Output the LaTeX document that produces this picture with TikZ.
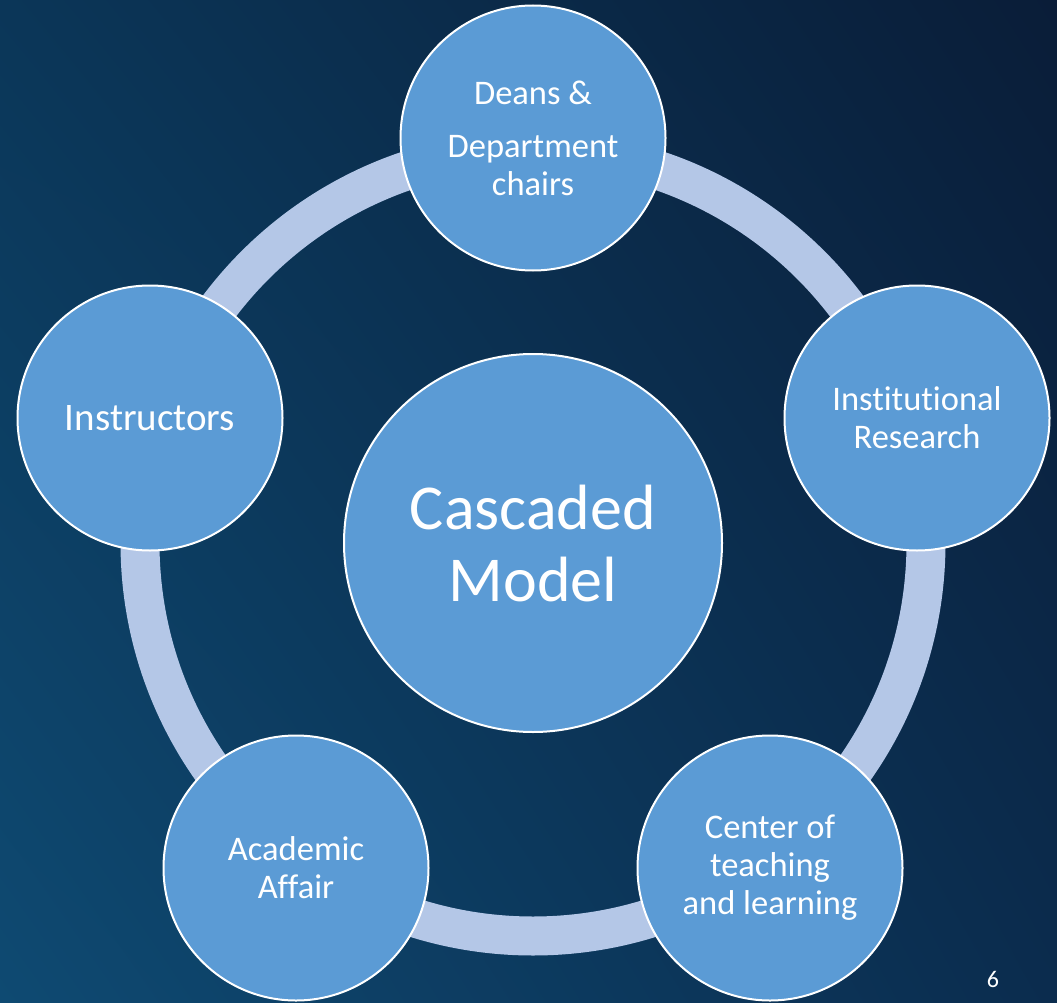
\documentclass[tikz,border=0pt]{standalone}
\usepackage{fontspec}
\setmainfont{Carlito}[Ligatures={NoCommon,NoRare,NoDiscretionary}]
\usetikzlibrary{positioning,calc,shadings}
\definecolor{bgll}{HTML}{0E4A72}
\definecolor{bgul}{HTML}{0B3658}
\definecolor{bglr}{HTML}{0B2C4E}
\definecolor{bgur}{HTML}{0A1D38}
\definecolor{cfill}{HTML}{5B9BD5}
\definecolor{ringblue}{HTML}{B4C7E7}
\tikzstyle{cbox}=[circle, draw=white, line width=2pt, fill=cfill, text=white,
                  minimum size=265pt, inner sep=0pt, align=center,
                  font=\fontsize{34.5}{38}\selectfont]
\tikzstyle{hbox}=[cbox, minimum size=378pt, font=\fontsize{64}{72}\selectfont]
\tikzstyle{pring}=[draw=ringblue, line width=39pt]

\begin{document}
\begin{tikzpicture}[x=1pt,y=-1pt]

\useasboundingbox (0,0) rectangle (1057,1003);
\shade[lower left=bgll, upper left=bgul, lower right=bglr, upper right=bgur]
  (0,0) rectangle (1057,1003);

% ring behind the circles
\coordinate (HUB) at (533,543);
\draw[pring] (HUB) circle[radius=393pt];

\node (DEANS) [cbox] at (533,138) {Deans \&\\[15pt]Department\\chairs};
\node (IR) [cbox] at (917,418) {Institutional\\Research};
\node (CTL) [cbox] at (770,868) {Center of\\teaching\\and learning};
\node (AA) [cbox] at (296,868) {Academic\\Affair};
\node (INSTR) [cbox, font=\fontsize{39}{43}\selectfont] at (150,418) {Instructors};

\node (CM) [hbox] at (HUB) {Cascaded\\Model};

\node (PAGE) [text=white, font=\fontsize{24}{28}\selectfont] at (993,979) {6};

\end{tikzpicture}
\end{document}
